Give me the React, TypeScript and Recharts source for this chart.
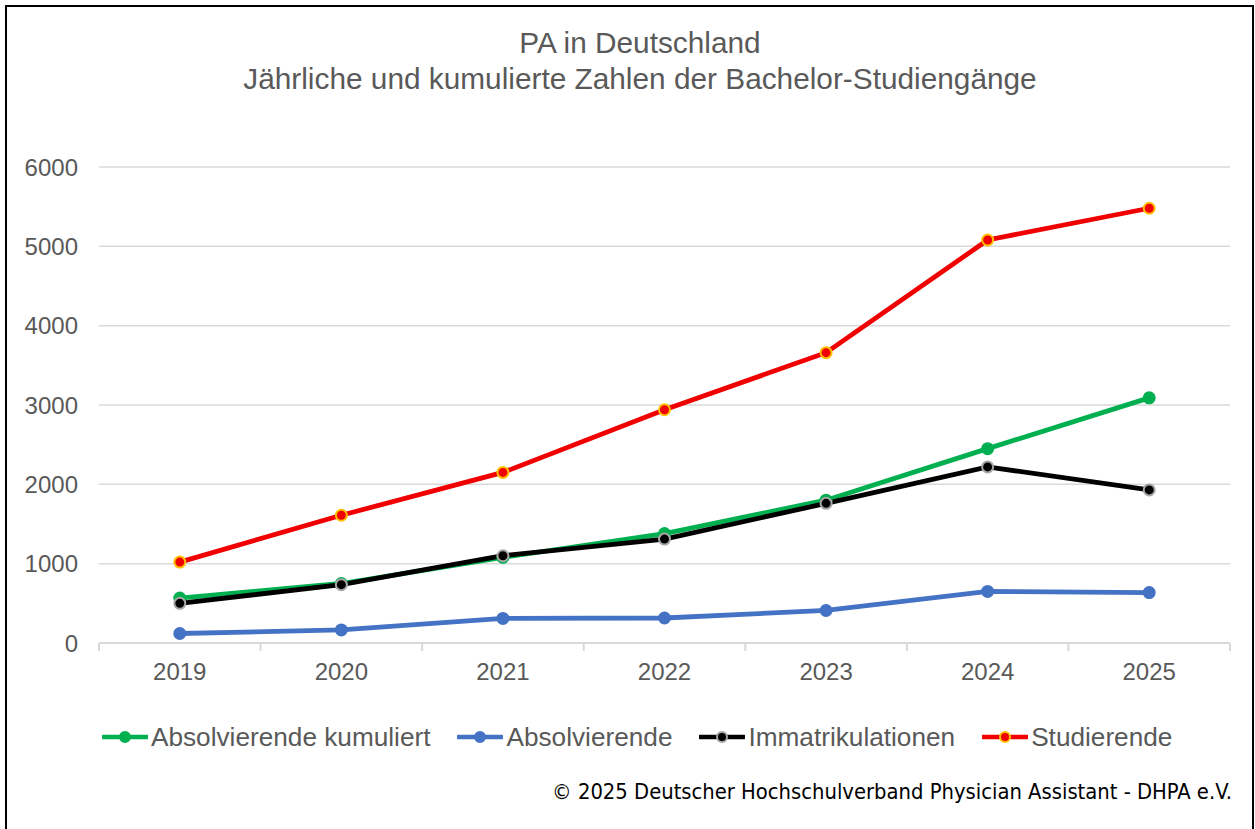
import React from 'react';
import { LineChart, Line, XAxis, YAxis, CartesianGrid } from 'recharts';

const years = ['2019', '2020', '2021', '2022', '2023', '2024', '2025'];
const absolvierendeKumuliert = [567, 750, 1080, 1380, 1800, 2450, 3090];
const absolvierende = [120, 165, 310, 315, 410, 650, 635];
const immatrikulationen = [500, 735, 1100, 1310, 1760, 2220, 1930];
const studierende = [1020, 1610, 2150, 2940, 3660, 5080, 5480];
const yTicks = [0, 1000, 2000, 3000, 4000, 5000, 6000];

const titleLine1 = 'PA in Deutschland';
const titleLine2 = 'Jährliche und kumulierte Zahlen der Bachelor-Studiengänge';
const copyright = '© 2025 Deutscher Hochschulverband Physician Assistant - DHPA e.V.';

const series = [
  { key: 'absKum', name: 'Absolvierende kumuliert', values: absolvierendeKumuliert, color: '#00B050', ring: '#00B050' },
  { key: 'abs', name: 'Absolvierende', values: absolvierende, color: '#4472C4', ring: '#4472C4' },
  { key: 'imm', name: 'Immatrikulationen', values: immatrikulationen, color: '#000000', ring: '#A6A6A6' },
  { key: 'stud', name: 'Studierende', values: studierende, color: '#F00000', ring: '#FFC000' },
];

const data = years.map((y, i) => {
  const row: Record<string, any> = { year: y };
  series.forEach((s) => {
    row[s.key] = s.values[i];
  });
  return row;
});

const FONT = '"Liberation Sans", Arial, sans-serif';
const GRAY = '#595959';
const GRID = '#D9D9D9';

const PLOT_LEFT = 99;
const PLOT_RIGHT = 1230;
const BAND = (PLOT_RIGHT - PLOT_LEFT) / years.length;

const XTick = (props: any) => {
  const { x, y, payload, index } = props;
  return (
    <g>
      <line x1={x - BAND / 2} x2={x - BAND / 2} y1={y} y2={y + 8} stroke={GRID} strokeWidth={2} />
      {index === years.length - 1 && (
        <line x1={x + BAND / 2} x2={x + BAND / 2} y1={y} y2={y + 8} stroke={GRID} strokeWidth={2} />
      )}
      <text x={x} y={y + 37} textAnchor="middle" fill={GRAY} fontSize={24} fontFamily={FONT}>
        {payload.value}
      </text>
    </g>
  );
};

const YTick = (props: any) => {
  const { x, y, payload } = props;
  return (
    <text x={x} y={y + 8.5} textAnchor="end" fill={GRAY} fontSize={24} fontFamily={FONT}>
      {payload.value}
    </text>
  );
};

const makeDot = (color: string, ring: string) => (props: any) => {
  const { cx, cy, index } = props;
  if (cx == null || cy == null) return <g key={index} />;
  return <circle key={index} cx={cx} cy={cy} r={5.5} fill={color} stroke={ring} strokeWidth={2} />;
};

const LegendIcon = ({ color, ring }: { color: string; ring: string }) => (
  <svg width={46} height={14} style={{ display: 'block' }}>
    <line x1={1} x2={45} y1={7} y2={7} stroke={color} strokeWidth={4.5} strokeLinecap="round" />
    <circle cx={23} cy={7} r={5} fill={color} stroke={ring} strokeWidth={2} />
  </svg>
);

export default function App() {
  return (
    <div style={{ position: 'absolute', left: 0, top: 0, width: 1255, height: 829, background: '#fff', overflow: 'hidden' }}>
      <div
        style={{
          position: 'absolute',
          left: 5,
          top: 5,
          width: 1249,
          height: 840,
          border: '2px solid #000',
          boxSizing: 'border-box',
        }}
      />
      <div
        style={{
          position: 'absolute',
          left: 0,
          width: 1280,
          top: 25,
          textAlign: 'center',
          fontFamily: FONT,
          fontSize: 29.8,
          color: GRAY,
          lineHeight: '36px',
        }}
      >
        <div>{titleLine1}</div>
        <div>{titleLine2}</div>
      </div>
      <div style={{ position: 'absolute', left: 0, top: 0 }}>
        <LineChart
          width={1255}
          height={829}
          data={data}
          margin={{ top: 167, right: 1255 - PLOT_RIGHT, bottom: 829 - 643 - 40, left: 0 }}
        >
          <CartesianGrid vertical={false} stroke={GRID} strokeWidth={1.5} />
          <XAxis
            dataKey="year"
            scale="band"
            height={40}
            tickLine={false}
            tickSize={0}
            tickMargin={0}
            axisLine={{ stroke: GRID, strokeWidth: 2 }}
            tick={<XTick />}
            interval={0}
          />
          <YAxis
            width={PLOT_LEFT}
            domain={[0, 6000]}
            ticks={yTicks}
            axisLine={false}
            tickLine={false}
            tickSize={0}
            tickMargin={21}
            tick={<YTick />}
            interval={0}
          />
          {series.map((s) => (
            <Line
              key={s.key}
              dataKey={s.key}
              name={s.name}
              type="linear"
              stroke={s.color}
              strokeWidth={4.8}
              dot={makeDot(s.color, s.ring)}
              activeDot={false}
              isAnimationActive={false}
            />
          ))}
        </LineChart>
      </div>
      <div
        style={{
          position: 'absolute',
          left: 102,
          top: 721,
          display: 'flex',
          alignItems: 'center',
          fontFamily: FONT,
          fontSize: 26.2,
          color: GRAY,
          lineHeight: '32px',
          whiteSpace: 'nowrap',
        }}
      >
        {series.map((s, i) => (
          <div key={s.key} style={{ display: 'flex', alignItems: 'center', marginRight: i < series.length - 1 ? 27 : 0 }}>
            <LegendIcon color={s.color} ring={s.ring} />
            <span style={{ marginLeft: 3 }}>{s.name}</span>
          </div>
        ))}
      </div>
      <div
        style={{
          position: 'absolute',
          right: 1255 - 1232,
          top: 778,
          fontFamily: '"DejaVu Sans Condensed", "Liberation Sans Narrow", sans-serif',
          fontSize: 21.8,
          color: '#000',
          lineHeight: '28px',
          whiteSpace: 'nowrap',
        }}
      >
        {copyright}
      </div>
    </div>
  );
}
